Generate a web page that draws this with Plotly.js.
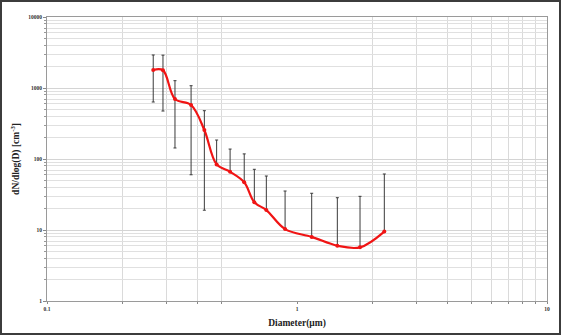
<!DOCTYPE html>
<html>
<head>
<meta charset="utf-8">
<script src="https://cdn.plot.ly/plotly-3.0.1.min.js"></script>
<style>
html,body{margin:0;padding:0;background:#fff;}
#wrap{position:relative;width:561px;height:335px;}
#chart{position:absolute;left:0;top:0;width:561px;height:335px;}
#frame{position:absolute;left:0;top:0;width:561px;height:335px;box-sizing:border-box;border:2px solid #3c3c3c;pointer-events:none;}
</style>
</head>
<body>
<div id="wrap"><div id="chart"></div><div id="frame"></div></div>
<script>
// Diameter (µm)
var diameter = [0.266, 0.291, 0.325, 0.377, 0.426, 0.477, 0.540, 0.615, 0.675, 0.754, 0.896, 1.145, 1.45, 1.787, 2.235];
// dN/dlog(D) [cm^-3]
var dNdlogD = [1795, 1780, 700, 576, 256, 84, 66, 47, 24.6, 19.1, 10.3, 8.0, 6.0, 5.7, 9.5];
// error bar extents (upper / lower part; 0 where the lower part is not drawn)
var errPlus  = [1122, 1120, 568, 501, 223, 101, 72, 71, 47, 38.5, 25.1, 24.9, 22.5, 24.1, 52];
var errMinus = [1160, 1306, 557, 516, 237, 0, 0, 0, 0, 0, 0, 0, 0, 0, 0];

var xTickVals = [0.1, 1, 10];
var xTickText = ['0.1', '1', '10'];
var xMinorVals = [0.2, 0.3, 0.4, 0.5, 2, 3, 4, 5, 6, 7, 8, 9];
var yTickVals = [1, 10, 100, 1000, 10000];
var yTickText = ['1', '10', '100', '1000', '10000'];
var yMinorVals = [];
[1, 10, 100, 1000].forEach(function (d) { for (var k = 2; k <= 9; k++) yMinorVals.push(d * k); });

var tickFont = {family: 'Liberation Serif, DejaVu Serif, serif', size: 5.5, color: '#333', weight: 'bold'};
var titleFont = {family: 'Liberation Serif, DejaVu Serif, serif', size: 9.5, color: '#222', weight: 'bold'};

var trace = {
  x: diameter,
  y: dNdlogD,
  type: 'scatter',
  mode: 'lines+markers',
  line: {color: '#f01414', width: 2.2, shape: 'spline', smoothing: 1},
  marker: {color: '#f01414', size: 4, symbol: 'circle'},
  error_y: {type: 'data', symmetric: false, array: errPlus, arrayminus: errMinus,
            color: '#3a3a3a', thickness: 1, width: 1.5},
  showlegend: false,
  hoverinfo: 'x+y'
};

var layout = {
  width: 561, height: 335,
  margin: {l: 47, r: 14, t: 17, b: 34},
  paper_bgcolor: '#fff', plot_bgcolor: '#fff',
  xaxis: {
    type: 'log', range: [-1, 1],
    tickmode: 'array', tickvals: xTickVals, ticktext: xTickText,
    tickfont: tickFont, ticks: 'outside', ticklen: 2, tickcolor: '#888',
    showgrid: false,
    showline: true, linecolor: '#9a9a9a', linewidth: 1, mirror: true,
    zeroline: false,
    minor: {tickmode: 'array', tickvals: xMinorVals, ticks: 'outside', ticklen: 2, tickcolor: '#888',
            showgrid: true, gridcolor: '#dadada', gridwidth: 1},
    title: {text: '<b>Diameter(μm)</b>', font: titleFont, standoff: 8}
  },
  yaxis: {
    type: 'log', range: [0, 4],
    tickmode: 'array', tickvals: yTickVals, ticktext: yTickText,
    tickfont: tickFont, ticks: 'outside', ticklen: 3, tickcolor: '#888',
    showgrid: true, gridcolor: '#d4d4d4', gridwidth: 1,
    showline: true, linecolor: '#9a9a9a', linewidth: 1, mirror: true,
    zeroline: false,
    minor: {tickmode: 'array', tickvals: yMinorVals, ticks: 'outside', ticklen: 2, tickcolor: '#999',
            showgrid: true, gridcolor: '#e0e0e0', gridwidth: 1},
    title: {text: '<b>dN/dlog(D) [cm<sup>-3</sup>]</b>', font: titleFont, standoff: 6}
  }
};

Plotly.newPlot('chart', [trace], layout, {staticPlot: true, displayModeBar: false});
</script>
</body>
</html>
